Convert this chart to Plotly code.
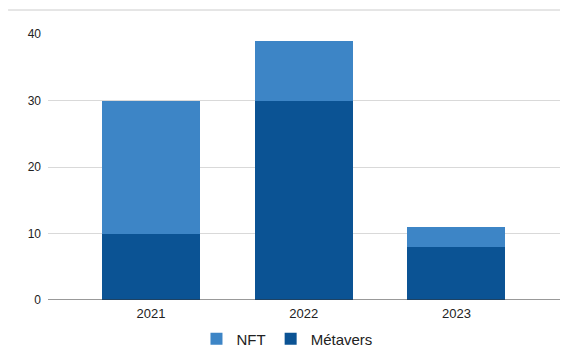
import plotly.graph_objects as go

years = ["2021", "2022", "2023"]
metavers = [10, 30, 8]
nft = [20, 9, 3]
yticks = [0, 10, 20, 30, 40]

xpos = list(range(len(years)))

fig = go.Figure()
fig.add_trace(go.Bar(x=xpos, y=metavers, name="Métavers", marker=dict(color="#0b5394", line=dict(width=0)),
                     width=0.642))
fig.add_trace(go.Bar(x=xpos, y=nft, name="NFT", marker=dict(color="#3d85c6", line=dict(width=0)),
                     width=0.642))

fig.update_layout(
    barmode="stack",
    width=566, height=362,
    margin=dict(l=48, r=6, t=34, b=62),
    paper_bgcolor="white", plot_bgcolor="white",
    font=dict(family="Liberation Sans, Arial, sans-serif", color="#222222"),
    xaxis=dict(range=[-0.6745, 2.678], tickvals=xpos, ticktext=years, showgrid=False,
               zeroline=False, showline=False, ticks="", tickfont=dict(size=13, color="#222222"),
               ticklabelstandoff=4),
    yaxis=dict(range=[0, 40], tickvals=yticks, showgrid=True, gridcolor="#d9d9d9", gridwidth=1,
               zeroline=False, showline=False, ticks="", tickfont=dict(size=12, color="#222222"),
               ticklabelstandoff=6),
    legend=dict(orientation="h", x=0.29, xanchor="left", y=-0.147, yanchor="middle",
                traceorder="reversed", font=dict(size=15, color="#222222"),
                itemwidth=30, tracegroupgap=0),
    shapes=[
        dict(type="line", xref="paper", yref="y", x0=0, x1=1, y0=0, y1=0,
             line=dict(color="#333333", width=1)),
        dict(type="line", xref="paper", yref="paper", x0=-0.078, x1=1, y0=1.0902, y1=1.0902,
             line=dict(color="#cccccc", width=1)),
    ],
)

fig.write_html("out.html")
